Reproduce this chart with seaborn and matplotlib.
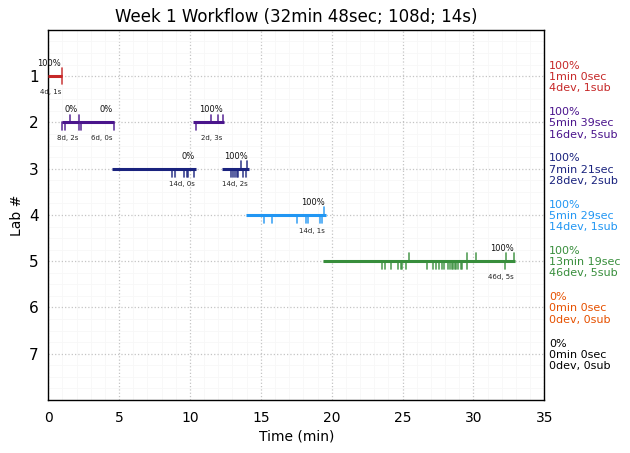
import pandas as pd
import matplotlib
matplotlib.use('Agg')
import matplotlib.pyplot as plt
import seaborn as sns

labs = [1, 2, 3, 4, 5, 6, 7]
lab_colors = ['#c62828', '#4a148c', '#1a237e', '#2196f3', '#388e3c', '#e65100', '#000000']
lab_summaries = [
    '100%\n1min 0sec\n4dev, 1sub',
    '100%\n5min 39sec\n16dev, 5sub',
    '100%\n7min 21sec\n28dev, 2sub',
    '100%\n5min 29sec\n14dev, 1sub',
    '100%\n13min 19sec\n46dev, 5sub',
    '0%\n0min 0sec\n0dev, 0sub',
    '0%\n0min 0sec\n0dev, 0sub',
]

# lab, start, end, score, submissions/devs label
session_labs = [1, 2, 2, 2, 3, 3, 4, 5]
session_starts = [0.0, 1.0, 2.2, 10.2, 4.5, 12.28, 13.95, 19.4]
session_ends = [1.0, 2.2, 4.62, 12.4, 10.4, 14.14, 19.6, 32.9]
session_scores = ['100%', '0%', '0%', '100%', '0%', '100%', '100%', '100%']
session_notes = ['4d, 1s', '8d, 2s', '6d, 0s', '2d, 3s', '14d, 0s', '14d, 2s', '14d, 1s', '46d, 5s']

# submissions are drawn above the line, dev runs below it
sub_labs = [1, 2, 2, 2, 2, 2, 3, 3, 4,
            5, 5, 5, 5, 5]
sub_times = [1.0, 1.52, 2.15, 11.5, 12.0, 12.35, 13.6, 14.05, 19.48,
             25.48, 29.58, 30.17, 32.33, 32.83]
dev_labs = [1, 2, 2, 2, 2, 2, 2,
            3, 3, 3, 3, 3, 3,
            3, 3, 3, 3, 3, 3, 3,
            4, 4, 4, 4, 4, 4, 4]
dev_times = [1.0, 0.95, 1.17, 2.15, 2.3, 4.62, 10.44,
             8.75, 8.93, 9.57, 9.76, 9.87, 10.3,
             12.9, 13.05, 13.17, 13.29, 13.4, 13.76, 13.95,
             15.24, 15.8, 17.57, 18.2, 18.33, 19.17, 19.3]
dev_labs += [5] * 24
dev_times += [23.57, 23.76, 24.2, 24.7, 24.87, 24.99, 25.27, 26.75,
              27.18, 27.34, 27.58, 27.8, 27.95, 28.24, 28.36, 28.47,
              28.59, 28.78, 28.94, 29.1, 29.2, 29.53, 32.26, 28.68]

sns.set_style('white')
plt.rcParams['font.family'] = ['DejaVu Sans']
plt.rcParams['text.color'] = 'black'
plt.rcParams['axes.labelcolor'] = 'black'
plt.rcParams['xtick.labelcolor'] = 'black'
plt.rcParams['ytick.labelcolor'] = 'black'

fig, ax = plt.subplots(figsize=(6.3, 4.53), dpi=100)
fig.subplots_adjust(left=0.0765, right=0.864, top=0.934, bottom=0.117)

palette = dict(zip(labs, lab_colors))

# sessions
rows = []
for i, lab in enumerate(session_labs):
    rows.append({'session': i, 'lab': lab, 'time': session_starts[i]})
    rows.append({'session': i, 'lab': lab, 'time': session_ends[i]})
sessions = pd.DataFrame(rows)
sns.lineplot(data=sessions, x='time', y='lab', hue='lab', units='session', estimator=None,
             palette=palette, linewidth=2.2, legend=False, ax=ax, zorder=3,
             solid_capstyle='butt')

for t, lab in zip(sub_times, sub_labs):
    ax.plot([t, t], [lab, lab - 0.17], color=palette[lab], lw=1.2, alpha=0.85, zorder=3)
for t, lab in zip(dev_times, dev_labs):
    ax.plot([t, t], [lab, lab + 0.17], color=palette[lab], lw=1.2, alpha=0.85, zorder=3)

# score above and note below each session, right aligned to the session end
for lab, end, score, note in zip(session_labs, session_ends, session_scores, session_notes):
    ax.text(end - 0.08, lab - 0.27, score, fontsize=6, ha='right', va='center', color='#111111')
    ax.text(end - 0.08, lab + 0.34, note, fontsize=5, ha='right', va='center', color='#222222')

for lab, summary, color in zip(labs, lab_summaries, lab_colors):
    ax.annotate(summary, xy=(1, lab), xycoords=('axes fraction', 'data'), xytext=(3.5, -0.7),
                textcoords='offset points', fontsize=8, color=color, va='center', ha='left',
                linespacing=1.15, annotation_clip=False)

ax.set_xlim(0, 35)
ax.set_ylim(8, 0)
ax.set_xticks(range(0, 36, 5))
ax.set_yticks(labs)
ax.set_xticks(range(0, 36), minor=True)
ax.set_yticks([i * 0.25 for i in range(33)], minor=True)
ax.grid(True, which='major', color='#c4c4c4', linestyle=':', linewidth=0.9)
ax.grid(True, which='minor', color='#f7f7f7', linestyle='-', linewidth=0.6)
ax.set_axisbelow(True)
ax.tick_params(axis='x', which='major', labelsize=10, length=0, pad=8)
ax.tick_params(axis='y', which='major', labelsize=11, length=0, pad=7)
ax.tick_params(which='minor', length=0)
for side in ax.spines.values():
    side.set_color('black')
    side.set_linewidth(1)

ax.set_xlabel('Time (min)', fontsize=10, labelpad=3)
ax.set_ylabel('Lab #', fontsize=10, labelpad=3.5)
ax.set_title('Week 1 Workflow (32min 48sec; 108d; 14s)', fontsize=12, pad=6)

fig.savefig('out.png', dpi=100)
